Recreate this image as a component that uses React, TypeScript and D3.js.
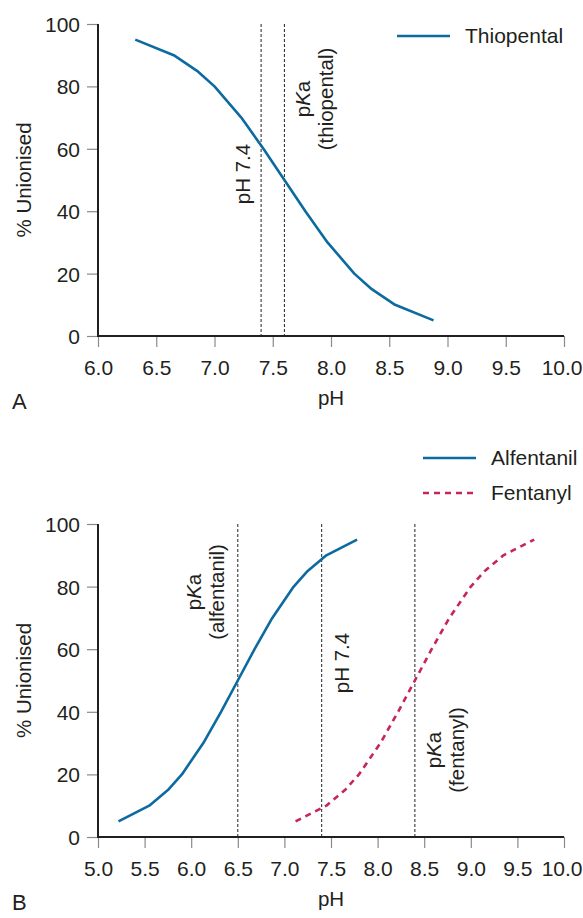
import React, { useRef, useEffect } from 'react';
import * as d3 from 'd3';

// panel A - thiopental
const thioPH = [6.32, 6.65, 6.85, 7.0, 7.23, 7.42, 7.6, 7.78, 7.97, 8.2, 8.35, 8.55, 8.88];
const thioPct = [95, 90, 85, 80, 70, 60, 50, 40, 30, 20, 15, 10, 5];

// panel B - alfentanil and fentanyl
const alfPH = [5.22, 5.55, 5.75, 5.9, 6.13, 6.32, 6.5, 6.68, 6.87, 7.1, 7.25, 7.45, 7.78];
const alfPct = [5, 10, 15, 20, 30, 40, 50, 60, 70, 80, 85, 90, 95];
const fenPH = [7.12, 7.45, 7.65, 7.8, 8.03, 8.22, 8.4, 8.58, 8.77, 9.0, 9.15, 9.35, 9.68];
const fenPct = [5, 10, 15, 20, 30, 40, 50, 60, 70, 80, 85, 90, 95];

const vlinesA = [7.4, 7.6];
const vlinesB = [6.5, 7.4, 8.4];

const BLUE = '#0b6a9f';
const RED = '#c8245c';
const INK = '#231f20';
const FONT = '"Liberation Sans", Arial, Helvetica, sans-serif';

function drawPanel(svg, opts) {
  const { xDomain, top, bottom, letter, series, vlines, labels, legend } = opts;
  const x = d3.scaleLinear().domain(xDomain).range([98, 564]);
  const y = d3.scaleLinear().domain([0, 100]).range([bottom, top]);

  const g = svg.append('g');

  // axes
  const xAxis = d3.axisBottom(x)
    .tickValues(d3.range(xDomain[0], xDomain[1] + 0.01, 0.5))
    .tickFormat(d3.format('.1f'))
    .tickSize(11)
    .tickPadding(13);
  const yAxis = d3.axisLeft(y).tickValues(d3.range(0, 101, 20)).tickSize(11).tickPadding(7);

  const gx = g.append('g').attr('transform', `translate(0,${bottom})`).call(xAxis);
  const gy = g.append('g').attr('transform', 'translate(98,0)').call(yAxis);
  [gx, gy].forEach(a => {
    a.select('.domain').remove();
    a.selectAll('.tick line').attr('stroke', '#8a8a8a').attr('stroke-width', 1.2);
    a.selectAll('.tick text')
      .attr('fill', INK)
      .style('font-family', FONT)
      .style('font-size', '21px');
  });
  gy.selectAll('.tick text').attr('dy', '0.36em');
  // keep the last x label inside the page
  gx.selectAll('.tick text').filter(d => d === xDomain[1])
    .attr('text-anchor', 'end').attr('x', 18);

  // axis lines
  g.append('line').attr('x1', 98).attr('x2', 98).attr('y1', top).attr('y2', bottom)
    .attr('stroke', INK).attr('stroke-width', 2);
  g.append('line').attr('x1', 97).attr('x2', 564).attr('y1', bottom).attr('y2', bottom)
    .attr('stroke', INK).attr('stroke-width', 2);

  // reference lines
  g.selectAll('.vl').data(vlines).enter().append('line')
    .attr('x1', d => x(d)).attr('x2', d => x(d))
    .attr('y1', y(100)).attr('y2', y(0))
    .attr('stroke', '#222').attr('stroke-width', 1)
    .attr('stroke-dasharray', '3,2');

  // curves
  const line = d3.line().x(d => x(d[0])).y(d => y(d[1]));
  series.forEach(s => {
    g.append('path')
      .datum(d3.zip(s.ph, s.pct))
      .attr('d', line)
      .attr('fill', 'none')
      .attr('stroke', s.color)
      .attr('stroke-width', 2.6)
      .attr('stroke-linejoin', 'round')
      .attr('stroke-dasharray', s.dash || null);
  });

  // rotated labels on the reference lines
  labels.forEach(l => {
    const t = g.append('text')
      .attr('transform', `translate(${l.x},${l.y}) rotate(-90)`)
      .attr('text-anchor', 'middle')
      .attr('fill', INK)
      .style('font-family', FONT)
      .style('font-size', '20.5px');
    l.lines.forEach((ln, i) => {
      const ts = t.append('tspan').attr('x', 0).attr('y', i * 23);
      if (ln === 'pKa') {
        ts.append('tspan').text('p');
        ts.append('tspan').text('K').style('font-style', 'italic');
        ts.append('tspan').text('a');
      } else {
        ts.text(ln);
      }
    });
  });

  // legend
  legend.forEach(d => {
    const ly = d.y;
    g.append('line').attr('x1', d.x).attr('x2', d.x + 53).attr('y1', ly).attr('y2', ly)
      .attr('stroke', d.color).attr('stroke-width', 2.6)
      .attr('stroke-dasharray', d.dash || null);
    g.append('text').attr('x', d.x + 68).attr('y', ly + 7)
      .attr('fill', INK)
      .style('font-family', FONT).style('font-size', '21px')
      .text(d.name);
  });

  // axis titles
  g.append('text')
    .attr('transform', `translate(31,${(top + bottom) / 2}) rotate(-90)`)
    .attr('text-anchor', 'middle')
    .attr('fill', INK)
    .style('font-family', FONT).style('font-size', '20.5px')
    .text('% Unionised');
  g.append('text')
    .attr('x', 331).attr('y', bottom + 69)
    .attr('text-anchor', 'middle')
    .attr('fill', INK)
    .style('font-family', FONT).style('font-size', '20.5px')
    .text('pH');
  g.append('text')
    .attr('x', 12).attr('y', bottom + 73)
    .attr('fill', INK)
    .style('font-family', FONT).style('font-size', '22px')
    .text(letter);
}

export default function App() {
  const svgRef = useRef(null);

  useEffect(() => {
    const svg = d3.select(svgRef.current);
    svg.selectAll('*').remove();

    drawPanel(svg, {
      xDomain: [6, 10],
      top: 24,
      bottom: 336,
      letter: 'A',
      series: [{ ph: thioPH, pct: thioPct, color: BLUE }],
      vlines: vlinesA,
      labels: [
        { x: 250, y: 174, lines: ['pH 7.4'] },
        { x: 310, y: 99, lines: ['pKa', '(thiopental)'] },
      ],
      legend: [{ name: 'Thiopental', color: BLUE, x: 397, y: 36 }],
    });

    drawPanel(svg, {
      xDomain: [5, 10],
      top: 524,
      bottom: 837,
      letter: 'B',
      series: [
        { ph: alfPH, pct: alfPct, color: BLUE },
        { ph: fenPH, pct: fenPct, color: RED, dash: '6,5' },
      ],
      vlines: vlinesB,
      labels: [
        { x: 201, y: 592, lines: ['pKa', '(alfentanil)'] },
        { x: 349, y: 663, lines: ['pH 7.4'] },
        { x: 441, y: 750, lines: ['pKa', '(fentanyl)'] },
      ],
      legend: [
        { name: 'Alfentanil', color: BLUE, x: 423, y: 458 },
        { name: 'Fentanyl', color: RED, x: 423, y: 493, dash: '6,5' },
      ],
    });
  }, []);

  return (
    <svg
      ref={svgRef}
      width={583}
      height={918}
      style={{ position: 'absolute', left: 0, top: 0, background: '#fff' }}
    />
  );
}
